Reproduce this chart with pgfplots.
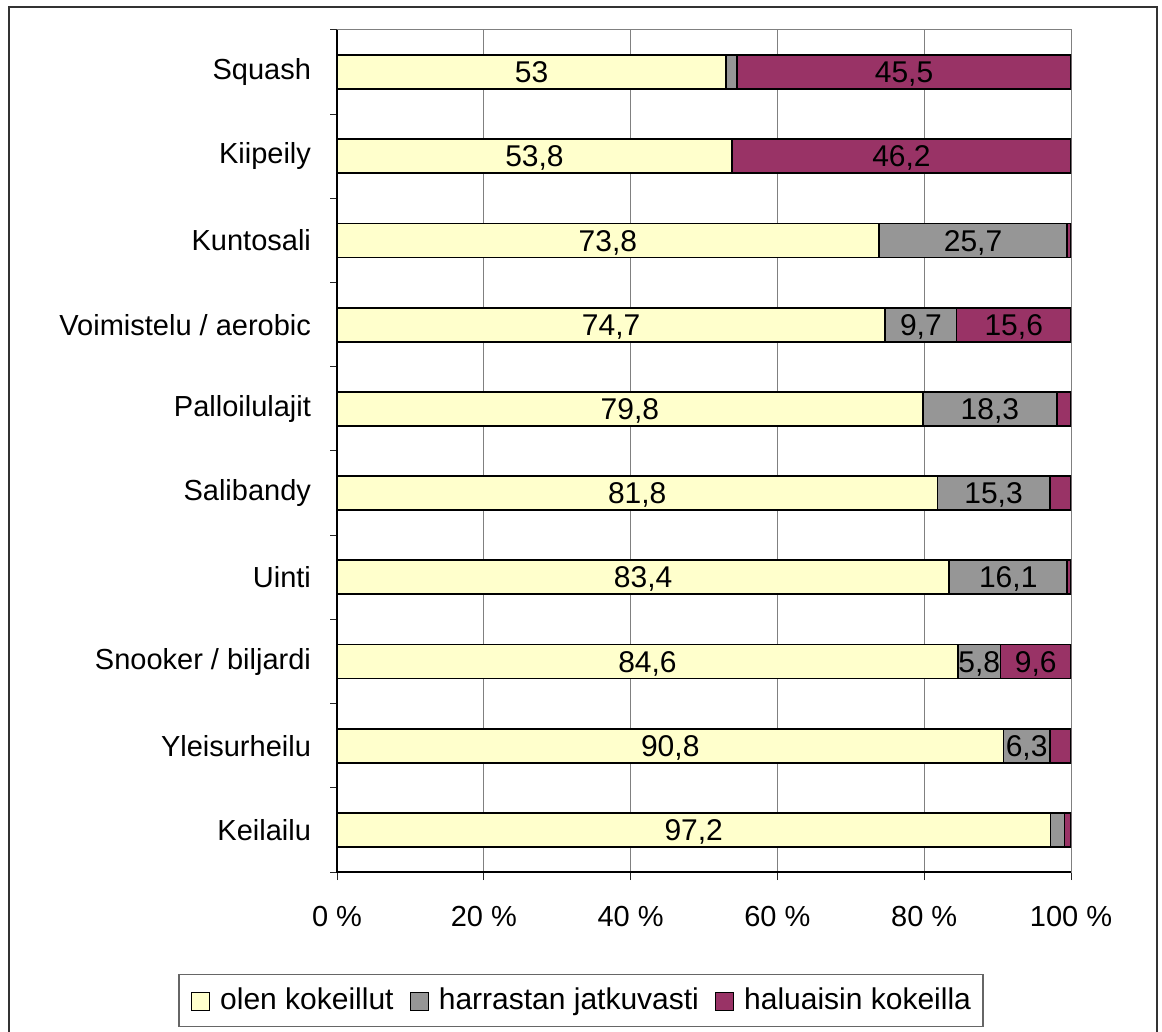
\documentclass[border=0pt]{standalone}
\usepackage{pgfplots}
\pgfplotsset{compat=1.18}
\usepackage{fontspec}
\setmainfont{Liberation Sans}
\definecolor{cyel}{HTML}{FFFFCC}
\definecolor{cgray}{HTML}{969696}
\definecolor{cmag}{HTML}{993366}
\newcommand{\ylfont}{\fontsize{14.5}{17}\selectfont}
\newcommand{\dlfont}{\fontsize{15}{18}\selectfont}

\begin{document}
\begin{tikzpicture}
\useasboundingbox (0,0) rectangle (581pt,-516pt);
\draw[black!80, line width=1.2pt] (4.5pt,-3.5pt) rectangle (578.5pt,-522pt);
\begin{axis}[
  at={(168.5pt,-436pt)}, anchor=south west,
  scale only axis, width=367pt, height=421pt,
  xbar stacked, bar width=17pt,
  xmin=0, xmax=100, ymin=-0.5, ymax=9.5,
  xtick={0,20,...,100},
  xticklabels={0 \%,20 \%,40 \%,60 \%,80 \%,100 \%},
  ytick={0,...,9},
  yticklabels={Keilailu,Yleisurheilu,Snooker / biljardi,Uinti,Salibandy,Palloilulajit,Voimistelu / aerobic,Kuntosali,Kiipeily,Squash},
  minor ytick={-0.5,0.5,...,9.5},
  xmajorgrids, major grid style={draw=gray, line width=0.5pt},
  tick align=outside, tick pos=left,
  major tick length=4pt, minor tick length=3.5pt,
  major y tick style={draw=none},
  tick style={draw=black!85, line width=0.5pt},
  axis line style={draw=gray, line width=0.5pt},
  ticklabel style={font=\ylfont},
  xticklabel style={yshift=-9.75pt},
  yticklabel style={xshift=-5.5pt},
  /pgf/number format/assume math mode=true,
  every axis plot/.append style={draw=black, line width=0.9pt},
  legend columns=3,
  legend style={at={(0.3324,-0.1526)}, anchor=center, draw=black!60, line width=0.6pt,
    font=\dlfont, inner xsep=6pt, inner ysep=6.75pt,
    nodes={inner sep=0pt, anchor=base},
    /tikz/every odd column/.append style={column sep=5pt},
    /tikz/every even column/.append style={column sep=8pt}},
  legend image code/.code={\draw[#1, line width=0.6pt] (0pt,-0.5pt) rectangle (9pt,8.5pt);},
  after end axis/.code={\draw[black, line width=0.6pt] (rel axis cs:0,1) -- (rel axis cs:0,0) -- (rel axis cs:1,0);},
]
\addplot[fill=cyel] coordinates {(97.2,0) (90.8,1) (84.6,2) (83.4,3) (81.8,4) (79.8,5) (74.7,6) (73.8,7) (53.8,8) (53,9)};
\addplot[fill=cgray] coordinates {(1.9,0) (6.3,1) (5.8,2) (16.1,3) (15.3,4) (18.3,5) (9.7,6) (25.7,7) (0,8) (1.5,9)};
\addplot[fill=cmag] coordinates {(0.9,0) (2.9,1) (9.6,2) (0.5,3) (2.9,4) (1.9,5) (15.6,6) (0.5,7) (46.2,8) (45.5,9)};
\legend{olen kokeillut, harrastan jatkuvasti, haluaisin kokeilla}
\end{axis}
\begin{axis}[
  at={(168.5pt,-436pt)}, anchor=south west,
  scale only axis, width=367pt, height=421pt,
  xmin=0, xmax=100, ymin=-0.5, ymax=9.5,
  hide axis, clip=false,
]
\addplot[only marks, mark=none,
  point meta=explicit symbolic, nodes near coords,
  nodes near coords style={font=\dlfont, anchor=base, yshift=-5.3pt, inner sep=0pt, text=black}]
  table[x=x, y=y, meta=label] {
x y label
26.5 9 53
77.25 9 45,5
26.9 8 53,8
76.9 8 46,2
36.9 7 73,8
86.65 7 25,7
37.35 6 74,7
79.55 6 9,7
92.2 6 15,6
39.9 5 79,8
88.95 5 18,3
40.9 4 81,8
89.45 4 15,3
41.7 3 83,4
91.45 3 16,1
42.3 2 84,6
87.5 2 5,8
95.2 2 9,6
45.4 1 90,8
93.95 1 6,3
48.6 0 97,2
};
\end{axis}
\end{tikzpicture}
\end{document}
